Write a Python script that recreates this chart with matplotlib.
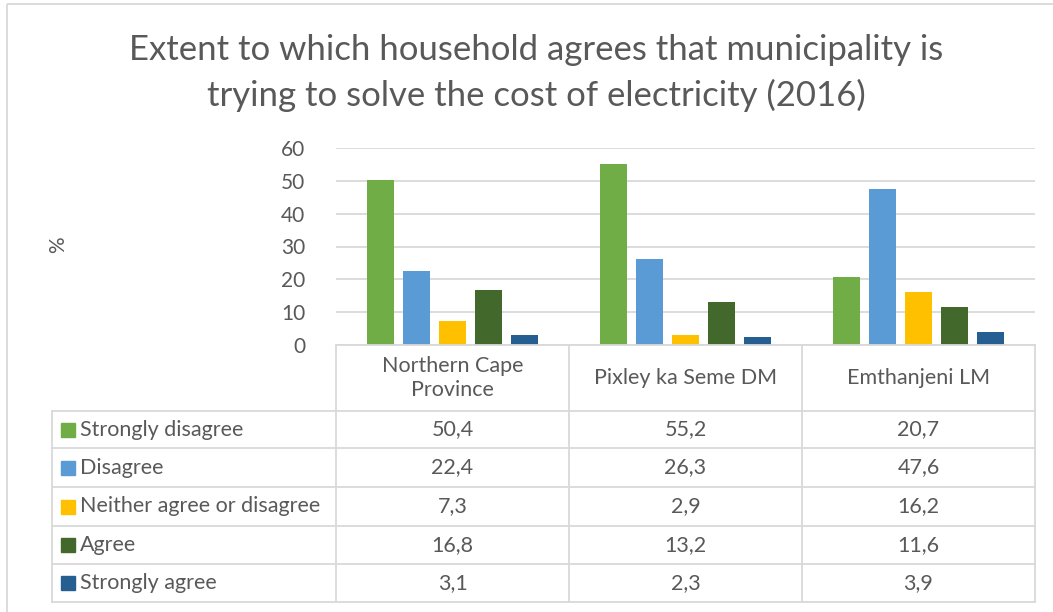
import numpy as np
import matplotlib
matplotlib.use("Agg")
import matplotlib.pyplot as plt
from matplotlib.patches import Rectangle

plt.rcParams['font.family'] = ['Lato', 'DejaVu Sans']

# Data
categories = ["Northern Cape\nProvince", "Pixley ka Seme DM", "Emthanjeni LM"]
series_names = ["Strongly disagree", "Disagree", "Neither agree or disagree",
                "Agree", "Strongly agree"]
strongly_disagree = [50.4, 55.2, 20.7]
disagree = [22.4, 26.3, 47.6]
neither = [7.3, 2.9, 16.2]
agree = [16.8, 13.2, 11.6]
strongly_agree = [3.1, 2.3, 3.9]
series_values = [strongly_disagree, disagree, neither, agree, strongly_agree]
colors = ["#70AD47", "#5B9BD5", "#FFC000", "#43682B", "#255E91"]
y_ticks = [0, 10, 20, 30, 40, 50, 60]

W, H = 1053, 612
text_col = "#595959"
line_col = "#D9D9D9"
fs = 15.5

fig = plt.figure(figsize=(W / 100, H / 100), dpi=100)

# pixel layout
ax_left, ax_right = 336, 1035
ax_top, ax_bottom = 148, 345
tab_left = 52
row_lines = [345, 411, 448, 487, 526, 564, 602]

ax = fig.add_axes([ax_left / W, 1 - ax_bottom / H,
                   (ax_right - ax_left) / W, (ax_bottom - ax_top) / H])

x = np.arange(len(categories))
spacing = 0.1545
width = 0.118
for i, (name, vals) in enumerate(zip(series_names, series_values)):
    ax.bar(x + (i - 2) * spacing, vals, width=width, color=colors[i],
           label=name, zorder=3)

ax.set_xlim(-0.5, len(categories) - 0.5)
ax.set_ylim(0, 60)
ax.set_yticks(y_ticks)
ax.set_xticks([])
ax.tick_params(axis='y', length=0, pad=22, labelsize=15, labelcolor=text_col)
ax.grid(axis='y', color=line_col, linewidth=1.3, zorder=0)
for s in ax.spines.values():
    s.set_visible(False)

# overlay in pixel coordinates for title, table and border
ov = fig.add_axes([0, 0, 1, 1], facecolor='none')
ov.set_xlim(0, W)
ov.set_ylim(H, 0)
ov.axis('off')

ov.add_patch(Rectangle((7, 4), W + 20, H + 20, fill=False,
                       edgecolor=line_col, linewidth=1.3))

ov.text(536, 50, "Extent to which household agrees that municipality is",
        ha='center', va='center', fontsize=25, color=text_col)
ov.text(536, 95, "trying to solve the cost of electricity (2016)",
        ha='center', va='center', fontsize=25, color=text_col)

ov.text(58, 245, "%", rotation=90, ha='center', va='center',
        fontsize=15, color=text_col)

# data table
cat_w = (ax_right - ax_left) / len(categories)
col_edges = [ax_left + k * cat_w for k in range(len(categories) + 1)]
lw = 1.3
for k, y in enumerate(row_lines):
    x0 = ax_left if k == 0 else tab_left
    ov.plot([x0, ax_right], [y, y], color=line_col, linewidth=lw)
for xe in col_edges:
    ov.plot([xe, xe], [row_lines[0], row_lines[-1]], color=line_col, linewidth=lw)
ov.plot([tab_left, tab_left], [row_lines[1], row_lines[-1]], color=line_col, linewidth=lw)

for j, cat in enumerate(categories):
    cx = (col_edges[j] + col_edges[j + 1]) / 2
    ov.text(cx, (row_lines[0] + row_lines[1]) / 2, cat, ha='center', va='center',
            fontsize=fs, color=text_col, linespacing=1.25)

for i, (name, vals) in enumerate(zip(series_names, series_values)):
    cy = (row_lines[i + 1] + row_lines[i + 2]) / 2
    ov.add_patch(Rectangle((61, cy - 7), 14, 14, color=colors[i]))
    ov.text(80, cy, name, ha='left', va='center', fontsize=fs, color=text_col)
    for j, v in enumerate(vals):
        cx = (col_edges[j] + col_edges[j + 1]) / 2
        ov.text(cx, cy, f"{v:.1f}".replace(".", ","), ha='center', va='center',
                fontsize=fs, color=text_col)

fig.savefig("out.png", dpi=100)
